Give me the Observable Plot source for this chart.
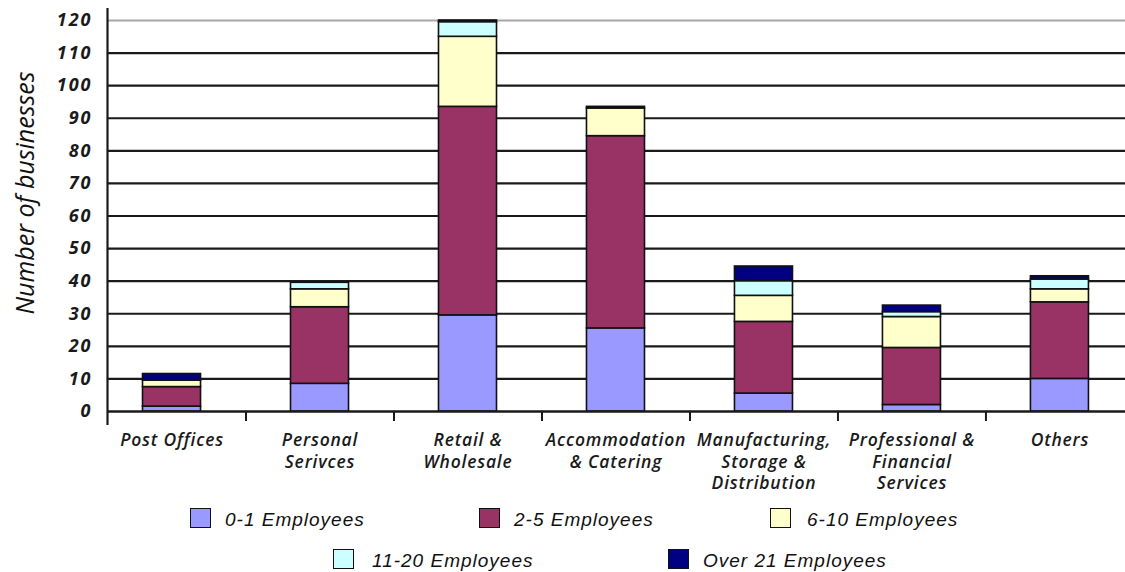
<!DOCTYPE html>
<html>
<head>
<meta charset="utf-8">
<script src="https://cdn.jsdelivr.net/npm/d3@7"></script>
<script src="https://cdn.jsdelivr.net/npm/@observablehq/plot@0.6"></script>
<style>
  html, body { margin: 0; padding: 0; background: #fff; }
  #wrap { position: relative; width: 1125px; height: 572px; overflow: hidden; }
  #wrap svg { display: block; }
  g[aria-label="y-axis tick label"] text { letter-spacing: 2px; }
  g[aria-label="x-axis tick label"] text { letter-spacing: 0.8px; }
  .lg-sq { position: absolute; width: 19px; height: 18px; border: 1.5px solid #111; }
  .lg-tx { position: absolute; font-family: "Liberation Sans", Arial, sans-serif; font-style: italic;
           font-size: 19px; letter-spacing: 1px; color: #111; line-height: 19px; white-space: nowrap; }
</style>
</head>
<body>
<div id="wrap"></div>
<script>
// ---- data ----
const categories = [
  "Post Offices",
  "Personal\nSerivces",
  "Retail &\nWholesale",
  "Accommodation\n& Catering",
  "Manufacturing,\nStorage &\nDistribution",
  "Professional &\nFinancial\nServices",
  "Others"
];
const series = ["0-1 Employees", "2-5 Employees", "6-10 Employees", "11-20 Employees", "Over 21 Employees"];
const emp0to1   = [1.5,  8.5, 29.5, 25.5,  5.5,  2.0, 10.0];
const emp2to5   = [6.0, 23.5, 64.0, 59.0, 22.0, 17.5, 23.5];
const emp6to10  = [2.0,  5.5, 21.5,  8.5,  8.0,  9.5,  4.0];
const emp11to20 = [0.0,  2.0,  4.5,  0.0,  4.5,  1.5,  3.0];
const empOver21 = [2.0,  0.0,  0.5,  0.5,  4.5,  2.0,  1.0];
const seriesColors = ["#9999ff", "#993366", "#ffffcc", "#ccffff", "#000080"];
const yTicks = [0, 10, 20, 30, 40, 50, 60, 70, 80, 90, 100, 110, 120];
const yTitle = "Number of businesses";

// ---- build stacked table ----
const seriesValues = [emp0to1, emp2to5, emp6to10, emp11to20, empOver21];
const table = [];
categories.forEach((c, i) => {
  let acc = 0;
  seriesValues.forEach((vals, s) => {
    const v = vals[i];
    if (v > 0) table.push({i, series: series[s], y1: acc, y2: acc + v});
    acc += v;
  });
});
const idx = categories.map((c, i) => i);
const boundaries = idx.slice(1).map(i => i - 0.5);
const xDomain = [-0.436, 6.443];
const half = 0.196;

const chart = Plot.plot({
  width: 1125,
  height: 500,
  marginLeft: 107,
  marginRight: 0,
  marginTop: 20,
  marginBottom: 89,
  style: {fontFamily: "'Open Sans', sans-serif", color: "#111", background: "#fff"},
  x: {type: "linear", domain: xDomain},
  y: {domain: [0, 120]},
  color: {domain: series, range: seriesColors},
  marks: [
    Plot.ruleY(yTicks, {stroke: d => d === 120 ? "#a8a8a8" : "#1a1a1a", strokeWidth: 2.2}),
    Plot.rect(table, {
      x1: d => d.i - half, x2: d => d.i + half,
      y1: "y1", y2: "y2", fill: "series",
      stroke: "#111", strokeWidth: 1.6
    }),
    Plot.ruleY([0], {stroke: "#1a1a1a", strokeWidth: 2.2}),
    Plot.ruleX([xDomain[0]], {stroke: "#1a1a1a", strokeWidth: 2.2, insetTop: -12, insetBottom: -14}),
    Plot.axisY({
      ticks: yTicks, tickSize: 0, tickPadding: 15, label: null,
      fontSize: 18, fontWeight: "bold", fontStyle: "italic", fill: "#1a1a1a"
    }),
    Plot.axisX({
      ticks: boundaries, tickSize: 10, tickFormat: () => "", label: null,
      strokeWidth: 2, stroke: "#1a1a1a"
    }),
    Plot.axisX({
      ticks: idx, tickSize: 0, tickPadding: 19, label: null,
      tickFormat: i => categories[i], lineHeight: 1.24,
      fontSize: 17.5, fontWeight: 600, fontStyle: "italic", fill: "#1a1a1a"
    }),
    Plot.text([yTitle], {
      text: d => d, frameAnchor: "left", textAnchor: "middle", lineAnchor: "middle",
      rotate: -90, dx: -82, dy: -23,
      fontSize: 25, fontStyle: "italic", fill: "#111"
    })
  ]
});

const wrap = document.getElementById("wrap");
wrap.appendChild(chart);

// ---- legend (HTML, below the SVG) ----
const legendLayout = [
  {sq: 190, tx: 225, top: 508},
  {sq: 479, tx: 514, top: 508},
  {sq: 770, tx: 807, top: 508},
  {sq: 333, tx: 372, top: 549},
  {sq: 668, tx: 703, top: 549}
];
series.forEach((name, s) => {
  const L = legendLayout[s];
  const sq = document.createElement("div");
  sq.className = "lg-sq";
  sq.style.left = L.sq + "px";
  sq.style.top = L.top + "px";
  sq.style.background = seriesColors[s];
  wrap.appendChild(sq);
  const tx = document.createElement("div");
  tx.className = "lg-tx";
  tx.style.left = L.tx + "px";
  tx.style.top = (L.top + 2) + "px";
  tx.textContent = name;
  wrap.appendChild(tx);
});
</script>
</body>
</html>
